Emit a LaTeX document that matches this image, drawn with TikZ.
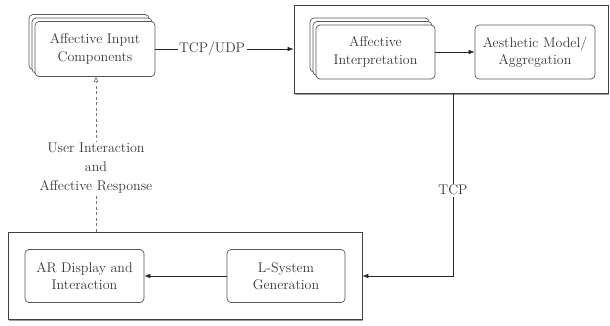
\documentclass[tikz,border=0pt]{standalone}
\usepackage{fontspec}
\usetikzlibrary{shadows,arrows.meta,positioning,calc}
\definecolor{txt}{HTML}{383838}
\definecolor{edge}{HTML}{555555}
\tikzset{
  box/.style={draw=edge, line width=0.7pt, rounded corners=4pt, fill=white, align=center,
    text=txt, font=\fontsize{14}{17.5}\selectfont, inner sep=0pt},
  stackbox/.style={box, double copy shadow={shadow xshift=-3pt, shadow yshift=3.5pt, draw=edge, fill=white}},
  container/.style={draw=black!75, line width=0.8pt, fill=white,
    drop shadow={shadow xshift=1pt, shadow yshift=-2pt, opacity=0.55, fill=black!70}},
  lbl/.style={text=txt, font=\fontsize{14}{19}\selectfont, align=center, fill=white, inner sep=1.5pt},
  conn/.style={draw=black!85, line width=0.6pt, -{Latex[length=6pt,width=4.5pt]}},
  dconn/.style={draw=black!55, line width=0.6pt, dashed, dash pattern=on 3pt off 2.5pt, -{Triangle[open,length=5pt,width=4.5pt]}}
}
\begin{document}
\begin{tikzpicture}[x=1pt,y=-1pt]
\useasboundingbox (0,0) rectangle (610,325);
% containers
\node[container, minimum width=314pt, minimum height=88pt, inner sep=0pt] (top) at (451,49) {};
\node[container, minimum width=354pt, minimum height=87pt, inner sep=0pt] (bot) at (185,275.5) {};
% input components
\node[stackbox, minimum width=120pt, minimum height=55pt] (aic) at (95,49) {Affective Input\\Components};
% inner boxes top
\node[stackbox, minimum width=119pt, minimum height=54pt] (ai) at (375.5,52) {Affective\\Interpretation};
\node[box, minimum width=120pt, minimum height=54pt] (aes) at (535,52) {Aesthetic Model/\\Aggregation};
% inner boxes bottom
\node[box, minimum width=119pt, minimum height=53pt] (ar) at (84.5,276) {AR Display and\\Interaction};
\node[box, minimum width=118pt, minimum height=53pt] (ls) at (286,276) {L-System\\Generation};
% connectors
\draw[conn] (aic.east) -- node[lbl, pos=0.41] (tcpudp) {TCP/UDP} (top.west |- aic.east);
\draw[conn] (ai.east) -- (aes.west);
\draw[conn] (ls.west) -- (ar.east);
\coordinate (c1) at (453,0);
\coordinate (corner) at (453,276);
\draw[conn] (top.south -| c1) -- node[lbl, pos=0.53] (tcp) {TCP} (corner) -- (bot.east |- corner);
\coordinate (d1) at (96,0);
\draw[dconn] (bot.north -| d1) -- node[lbl, pos=0.41] (ui) {User Interaction\\and\\Affective Response} (aic.south -| d1);
\end{tikzpicture}
\end{document}
